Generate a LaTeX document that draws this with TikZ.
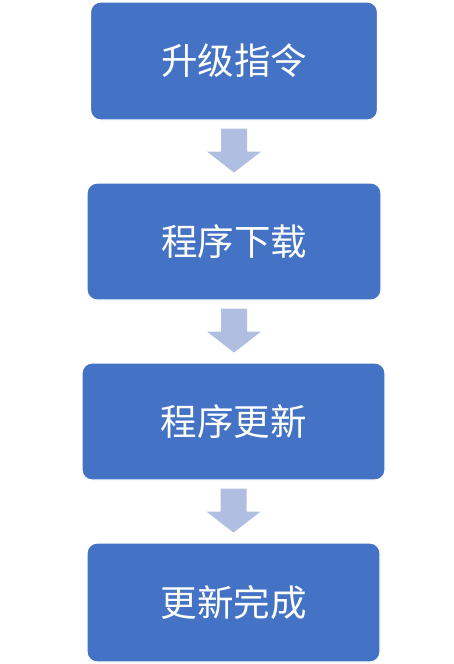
\documentclass[tikz,border=0pt]{standalone}
\usepackage{fontspec}
\newfontfamily\cjk{Noto Sans CJK SC}
\definecolor{boxblue}{HTML}{4472C4}
\definecolor{arrowblue}{HTML}{B0BEE1}
\begin{document}
\begin{tikzpicture}[x=1pt,y=-1pt,
  stepbox/.style={rectangle, rounded corners=10pt, fill=boxblue, draw=white, line width=1.2pt,
    text=white, font=\cjk\fontsize{36.5}{40}\selectfont, inner sep=0pt},
  downarrow/.style={fill=arrowblue, draw=none}]
\useasboundingbox (0,0) rectangle (454,664);
\node[stepbox, minimum width=287pt, minimum height=118pt] (b1) at (234,61) {升级指令};
\node[stepbox, minimum width=294pt, minimum height=117pt] (b2) at (234,241.5) {程序下载};
\node[stepbox, minimum width=303pt, minimum height=117pt] (b3) at (233.5,421.5) {程序更新};
\node[stepbox, minimum width=293pt, minimum height=119pt] (b4) at (233.5,602.5) {更新完成};
\foreach \a/\b in {b1/b2, b2/b3, b3/b4}{
  \path (\a.south) ++(0,8) coordinate (t-\a);
  \fill[downarrow] (t-\a) ++(-13,0) -- ++(26,0) -- ++(0,23) -- ++(14,0) -- ++(-27,21) -- ++(-27,-21) -- ++(14,0) -- cycle;
}
\end{tikzpicture}
\end{document}
